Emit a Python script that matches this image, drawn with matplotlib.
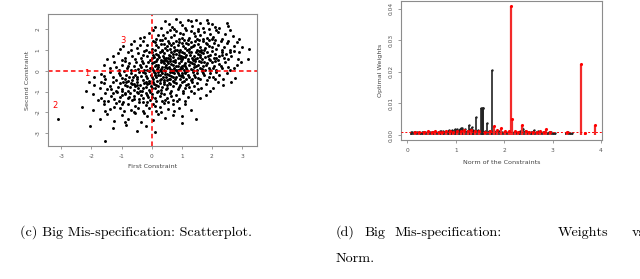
import matplotlib
matplotlib.use("Agg")
import matplotlib.pyplot as plt

# ---- panel (c): scatter of the two constraints
scatter_pts = [
    # y 2.0 .. 2.5
    (0.56, 2.27), (0.67, 2.12), (0.81, 2.49), (1.0, 2.2), (1.21, 2.43), (1.48, 2.43), (1.85, 2.43),
    (1.88, 2.28), (1.99, 2.24), (2.49, 2.28), (2.55, 2.17), (0.3, 2.05), (0.95, 2.33), (1.1, 2.05),
    (1.35, 2.15), (1.6, 2.3), (1.7, 2.08), (2.1, 2.12), (0.45, 2.4), (1.3, 2.38), (0.75, 2.02),
    (1.55, 2.02), (2.25, 2.05), (0.1, 2.1), (1.9, 2.0),
    # y 1.5 .. 2.0
    (0.22, 1.72), (0.37, 1.73), (2.2, 1.87), (-0.39, 1.59), (0.05, 1.95), (0.5, 1.85), (0.65, 1.62),
    (0.8, 1.9), (0.9, 1.55), (1.05, 1.75), (1.15, 1.95), (1.25, 1.6), (1.4, 1.82), (1.5, 1.52),
    (1.62, 1.7), (1.75, 1.88), (1.85, 1.58), (1.95, 1.76), (2.05, 1.62), (2.35, 1.55), (2.45, 1.78),
    (2.7, 1.65), (2.9, 1.52), (0.15, 1.55), (-0.1, 1.8), (0.6, 1.98), (1.0, 1.6), (1.3, 1.92),
    (1.7, 1.55), (2.15, 1.98), (0.35, 1.5), (0.75, 1.7), (1.2, 1.5), (1.55, 1.9), (2.6, 1.95),
    (0.95, 1.82), (-0.25, 1.62), (1.45, 1.68), (0.45, 1.6), (2.0, 1.52),
    # y 1.0 .. 1.5
    (-1.06, 1.04), (-0.95, 1.2), (-0.7, 1.3), (-0.5, 1.1), (-0.3, 1.42), (-0.15, 1.25), (0.0, 1.05),
    (0.1, 1.38), (0.2, 1.15), (0.28, 1.48), (0.35, 1.02), (0.42, 1.3), (0.5, 1.18), (0.55, 1.45),
    (0.62, 1.05), (0.7, 1.35), (0.75, 1.12), (0.82, 1.42), (0.88, 1.22), (0.95, 1.02), (1.0, 1.32),
    (1.08, 1.48), (1.12, 1.1), (1.2, 1.28), (1.25, 1.05), (1.3, 1.4), (1.38, 1.18), (1.45, 1.45),
    (1.5, 1.02), (1.55, 1.3), (1.62, 1.15), (1.7, 1.42), (1.78, 1.08), (1.85, 1.28), (1.92, 1.48),
    (2.0, 1.15), (2.08, 1.35), (2.15, 1.05), (2.22, 1.25), (2.3, 1.45), (2.4, 1.12), (2.5, 1.32),
    (2.6, 1.02), (2.72, 1.2), (2.85, 1.38), (3.24, 1.07), (3.0, 1.15), (-0.6, 1.45), (-0.2, 1.0),
    (0.15, 1.22), (0.65, 1.25), (0.9, 1.4), (1.15, 1.35), (1.4, 1.25), (1.65, 1.02), (1.9, 1.2),
    (2.35, 1.02), (0.45, 1.08), (0.3, 1.28), (1.05, 1.18), (0.78, 1.02), (1.58, 1.48), (2.1, 1.46),
    (-0.4, 1.22), (0.05, 1.45), (1.3, 1.15), (0.58, 1.35), (2.55, 1.45), (1.8, 1.35),
    # y 0.5 .. 1.0
    (-1.47, 0.55), (-1.11, 0.84), (-1.3, 0.7), (-0.9, 0.6), (-0.8, 0.92), (-0.65, 0.72), (-0.55, 0.55),
    (-0.45, 0.85), (-0.35, 0.62), (-0.25, 0.95), (-0.15, 0.7), (-0.05, 0.52), (0.02, 0.88), (0.08, 0.65),
    (0.12, 0.98), (0.18, 0.58), (0.22, 0.78), (0.28, 0.92), (0.32, 0.52), (0.38, 0.7), (0.42, 0.85),
    (0.48, 0.6), (0.52, 0.98), (0.56, 0.75), (0.6, 0.55), (0.65, 0.88), (0.7, 0.68), (0.74, 0.95),
    (0.78, 0.52), (0.82, 0.8), (0.88, 0.62), (0.92, 0.9), (0.98, 0.72), (1.02, 0.55), (1.08, 0.85),
    (1.12, 0.65), (1.18, 0.98), (1.22, 0.58), (1.28, 0.78), (1.32, 0.92), (1.38, 0.52), (1.42, 0.7),
    (1.48, 0.88), (1.52, 0.62), (1.58, 0.95), (1.62, 0.75), (1.68, 0.55), (1.72, 0.85), (1.78, 0.68),
    (1.85, 0.92), (1.9, 0.58), (1.95, 0.78), (2.02, 0.95), (2.08, 0.62), (2.12, 0.82), (2.2, 0.52),
    (2.25, 0.72), (2.32, 0.9), (2.4, 0.6), (2.48, 0.8), (2.55, 0.55), (2.65, 0.72), (2.86, 0.59),
    (2.9, 0.9), (2.96, 0.42), (3.21, 0.55), (2.75, 0.95), (-1.0, 0.52), (-0.7, 0.98), (0.0, 0.6),
    (0.25, 0.68), (0.45, 0.52), (0.62, 0.72), (0.85, 0.98), (1.05, 0.68), (1.25, 0.88), (1.45, 0.58),
    (1.65, 0.9), (1.88, 0.7), (2.15, 0.6), (0.15, 0.8), (0.35, 0.95), (0.55, 0.62), (0.95, 0.6),
    (1.35, 0.62), (1.75, 0.98), (-0.3, 0.78), (0.72, 0.82), (1.15, 0.78), (1.55, 0.8), (2.35, 0.75),
    (0.05, 0.75), (0.9, 0.78), (1.95, 0.52), (-0.1, 0.9), (0.4, 0.6), (1.0, 0.92), (1.6, 0.65),
    (2.6, 0.88),
    # y 0.0 .. 0.5
    (-1.6, 0.3), (-1.4, 0.15), (-1.25, 0.42), (-1.1, 0.05), (-1.0, 0.28), (-0.9, 0.45), (-0.82, 0.12),
    (-0.75, 0.35), (-0.68, 0.02), (-0.6, 0.22), (-0.52, 0.4), (-0.45, 0.1), (-0.4, 0.3), (-0.32, 0.48),
    (-0.25, 0.05), (-0.2, 0.25), (-0.12, 0.42), (-0.05, 0.15), (0.02, 0.35), (0.05, 0.02), (0.1, 0.22),
    (0.14, 0.45), (0.18, 0.1), (0.22, 0.3), (0.26, 0.05), (0.3, 0.4), (0.34, 0.18), (0.38, 0.48),
    (0.42, 0.02), (0.46, 0.28), (0.5, 0.12), (0.54, 0.38), (0.58, 0.2), (0.62, 0.45), (0.66, 0.05),
    (0.7, 0.3), (0.74, 0.15), (0.78, 0.42), (0.82, 0.22), (0.86, 0.02), (0.9, 0.35), (0.94, 0.1),
    (0.98, 0.48), (1.02, 0.25), (1.06, 0.05), (1.1, 0.38), (1.15, 0.15), (1.2, 0.45), (1.25, 0.28),
    (1.3, 0.08), (1.35, 0.35), (1.4, 0.18), (1.45, 0.48), (1.5, 0.02), (1.55, 0.3), (1.6, 0.12),
    (1.65, 0.4), (1.7, 0.22), (1.78, 0.05), (1.85, 0.35), (1.92, 0.15), (2.0, 0.42), (2.08, 0.25),
    (2.15, 0.05), (2.25, 0.32), (2.35, 0.12), (2.45, 0.4), (2.55, 0.2), (2.74, 0.12), (2.6, 0.02),
    (2.85, 0.3), (-0.15, 0.02), (0.0, 0.12), (0.08, 0.4), (0.2, 0.2), (0.32, 0.08), (0.4, 0.35),
    (0.52, 0.48), (0.6, 0.1), (0.72, 0.48), (0.8, 0.05), (0.88, 0.25), (0.96, 0.18), (1.08, 0.28),
    (1.18, 0.02), (1.28, 0.42), (1.38, 0.05), (1.48, 0.22), (1.58, 0.45), (1.68, 0.08), (1.8, 0.28),
    (1.95, 0.02), (2.1, 0.45), (2.3, 0.22), (-0.35, 0.18), (-0.55, 0.05), (-0.8, 0.25), (-1.2, 0.2),
    (-0.3, 0.35), (0.15, 0.3), (0.45, 0.18), (0.65, 0.32), (0.75, 0.02), (1.0, 0.12), (1.12, 0.25),
    (1.42, 0.32), (1.75, 0.4), (2.05, 0.12),
    # y -0.5 .. 0.0
    (-2.09, -0.53), (-1.9, -0.3), (-1.7, -0.15), (-1.55, -0.42), (-1.4, -0.05), (-1.3, -0.28),
    (-1.2, -0.45), (-1.1, -0.12), (-1.0, -0.35), (-0.92, -0.02), (-0.85, -0.22), (-0.78, -0.48),
    (-0.7, -0.1), (-0.62, -0.3), (-0.55, -0.18), (-0.48, -0.42), (-0.42, -0.05), (-0.35, -0.25),
    (-0.28, -0.45), (-0.22, -0.12), (-0.15, -0.35), (-0.08, -0.02), (-0.02, -0.2), (0.04, -0.42),
    (0.1, -0.1), (0.14, -0.3), (0.18, -0.48), (0.22, -0.05), (0.26, -0.22), (0.3, -0.38), (0.35, -0.12),
    (0.4, -0.45), (0.44, -0.02), (0.48, -0.28), (0.52, -0.15), (0.56, -0.4), (0.6, -0.08), (0.65, -0.25),
    (0.7, -0.48), (0.75, -0.12), (0.8, -0.32), (0.85, -0.02), (0.9, -0.2), (0.95, -0.42), (1.0, -0.1),
    (1.05, -0.3), (1.1, -0.05), (1.15, -0.38), (1.22, -0.18), (1.3, -0.45), (1.38, -0.08), (1.45, -0.28),
    (1.52, -0.12), (1.6, -0.4), (1.68, -0.02), (1.75, -0.22), (1.85, -0.45), (1.95, -0.1), (2.05, -0.3),
    (2.15, -0.05), (2.25, -0.2), (2.38, -0.4), (2.5, -0.1), (2.78, -0.37), (2.63, -0.53), (-0.3, -0.08),
    (-0.5, -0.32), (-0.65, -0.45), (-0.9, -0.4), (-0.1, -0.48), (0.0, -0.3), (0.08, -0.05), (0.2, -0.18),
    (0.32, -0.02), (0.38, -0.3), (0.5, -0.45), (0.58, -0.22), (0.68, -0.05), (0.78, -0.42), (0.88, -0.12),
    (0.98, -0.25), (1.08, -0.48), (1.18, -0.02), (1.25, -0.32), (1.4, -0.2), (1.55, -0.35), (1.72, -0.1),
    (1.9, -0.28), (2.1, -0.42), (-1.6, -0.25), (-1.05, -0.2), (-0.2, -0.25), (0.12, -0.22), (0.45, -0.15),
    (0.72, -0.3), (1.02, -0.18), (1.35, -0.4), (-0.75, -0.3), (0.28, -0.45), (0.62, -0.38), (1.12, -0.12),
    # y -1.0 .. -0.5
    (-2.17, -0.98), (-1.72, -0.85), (-1.9, -0.7), (-1.6, -0.6), (-1.5, -0.9), (-1.38, -0.72),
    (-1.28, -0.55), (-1.2, -0.95), (-1.12, -0.78), (-1.05, -0.6), (-0.98, -0.88), (-0.9, -0.7),
    (-0.85, -0.52), (-0.78, -0.98), (-0.72, -0.8), (-0.66, -0.62), (-0.6, -0.92), (-0.55, -0.75),
    (-0.5, -0.55), (-0.44, -0.85), (-0.38, -0.68), (-0.32, -0.98), (-0.26, -0.58), (-0.2, -0.8),
    (-0.14, -0.65), (-0.08, -0.92), (-0.02, -0.72), (0.04, -0.55), (0.1, -0.85), (0.16, -0.68),
    (0.22, -0.98), (0.28, -0.6), (0.34, -0.8), (0.4, -0.52), (0.46, -0.9), (0.52, -0.7), (0.58, -0.58),
    (0.65, -0.95), (0.72, -0.75), (0.8, -0.6), (0.88, -0.88), (0.95, -0.68), (1.02, -0.55), (1.1, -0.82),
    (1.2, -0.62), (1.3, -0.95), (1.4, -0.72), (1.52, -0.58), (1.65, -0.85), (1.8, -0.65), (2.05, -0.85),
    (2.38, -0.67), (1.95, -0.95), (-1.0, -0.95), (-0.7, -0.58), (-0.4, -0.95), (-0.1, -0.6), (0.2, -0.75),
    (0.5, -0.85), (0.75, -0.52), (1.05, -0.95), (1.35, -0.55), (-1.35, -0.88), (-0.95, -0.52),
    (-0.48, -0.7), (-0.28, -0.82), (0.0, -0.85), (0.3, -0.92), (0.62, -0.65), (0.9, -0.78), (1.15, -0.7),
    (1.55, -0.9), (-1.7, -0.55), (-0.6, -0.65), (0.08, -0.65), (0.42, -0.62), (-0.82, -0.75),
    (-0.18, -0.52), (1.25, -0.8), (2.2, -0.55),
    # y -1.5 .. -1.0
    (-1.95, -1.1), (-1.7, -1.3), (-1.55, -1.05), (-1.45, -1.45), (-1.35, -1.2), (-1.25, -1.38),
    (-1.15, -1.02), (-1.05, -1.25), (-0.95, -1.48), (-0.88, -1.12), (-0.8, -1.32), (-0.72, -1.05),
    (-0.65, -1.42), (-0.58, -1.2), (-0.5, -1.02), (-0.42, -1.35), (-0.35, -1.15), (-0.28, -1.48),
    (-0.2, -1.05), (-0.12, -1.28), (-0.05, -1.42), (0.02, -1.1), (0.1, -1.32), (0.18, -1.02),
    (0.26, -1.22), (0.34, -1.45), (0.42, -1.12), (0.5, -1.3), (0.6, -1.05), (0.7, -1.4), (0.8, -1.18),
    (0.92, -1.35), (1.05, -1.08), (1.2, -1.25), (1.4, -1.05), (1.6, -1.3), (1.8, -1.15), (-1.6, -1.45),
    (-1.1, -1.45), (-0.75, -1.25), (-0.45, -1.05), (-0.15, -1.15), (0.15, -1.45), (0.45, -1.4),
    (0.85, -1.45), (-0.9, -1.05), (-0.3, -1.3), (0.0, -1.25), (0.3, -1.08), (-1.3, -1.05), (-0.6, -1.35),
    (0.65, -1.22), (1.1, -1.45), (-1.8, -1.4), (-1.0, -1.15), (-0.05, -1.02), (0.55, -1.48),
    # y -2.0 .. -1.5
    (-2.33, -1.75), (-1.95, -1.9), (-1.6, -1.6), (-1.4, -1.85), (-1.2, -1.55), (-1.05, -1.78),
    (-0.92, -1.95), (-0.8, -1.62), (-0.68, -1.88), (-0.55, -1.7), (-0.42, -1.52), (-0.3, -1.92),
    (-0.2, -1.65), (-0.08, -1.8), (0.05, -1.58), (0.15, -1.95), (0.28, -1.72), (0.4, -1.55), (0.55, -1.85),
    (0.7, -1.62), (0.9, -1.78), (1.1, -1.6), (1.3, -1.9), (-1.55, -1.95), (-0.98, -1.58), (-0.6, -1.98),
    (-0.15, -1.52), (0.3, -1.98), (-1.25, -1.75), (-0.45, -1.8), (0.1, -1.7), (0.75, -1.95),
    # y below -2.0
    (-3.11, -2.32), (-1.72, -2.34), (-1.5, -2.1), (-1.25, -2.4), (-1.0, -2.15), (-0.78, -2.3),
    (-0.55, -2.05), (-0.35, -2.45), (-0.15, -2.2), (0.05, -2.35), (0.2, -2.08), (0.45, -2.25),
    (0.7, -2.12), (1.47, -2.32), (-0.9, -2.45), (-0.25, -2.02), (1.0, -2.2),
    (-1.55, -3.38), (-2.05, -2.64), (-0.5, -2.9), (0.11, -2.93), (1.0, -2.53), (-0.85, -2.6),
    (-1.3, -2.75), (-0.2, -2.65),
]
scatter_x = [p[0] for p in scatter_pts]
scatter_y = [p[1] for p in scatter_pts]

region_labels = ["1", "2", "3"]
region_pos = [(-2.15, -0.12), (-3.2, -1.65), (-0.95, 1.47)]

# ---- panel (d): optimal weights against the norm of the constraints
black_x = [0.07, 0.1, 0.13, 0.16, 0.2, 0.24, 0.27, 0.3, 0.33, 0.37, 0.4, 0.43, 0.47, 0.5, 0.53,
           0.56, 0.6, 0.63, 0.66, 0.68, 0.7, 0.73, 0.76, 0.8, 0.83, 0.86, 0.9, 0.92, 0.95, 0.98,
           1.0, 1.03, 1.06, 1.08, 1.1, 1.12, 1.15, 1.18, 1.2, 1.23, 1.27, 1.3, 1.33, 1.36, 1.38,
           1.42, 1.45, 1.48, 1.52, 1.54, 1.56, 1.57, 1.6, 1.64, 1.68, 1.72, 1.75, 1.78, 1.82, 1.86,
           1.9, 1.95, 2.0, 2.04, 2.08, 2.12, 2.2, 2.25, 2.3, 2.33, 2.36, 2.38, 2.42, 2.45, 2.5,
           2.55, 2.58, 2.62, 2.66, 2.7, 2.73, 2.76, 2.8, 2.84, 2.88, 2.92, 2.96, 3.0, 3.04,
           3.27, 3.32, 3.36, 3.4]
black_w = [0.0008, 0.0009, 0.0008, 0.0009, 0.0008, 0.0009, 0.0007, 0.0009, 0.0008, 0.0010,
           0.0009, 0.0008, 0.0010, 0.0009, 0.0011, 0.0009, 0.0010, 0.0011, 0.0009, 0.0014,
           0.0012, 0.0014, 0.0010, 0.0012, 0.0011, 0.0015, 0.0013, 0.0017, 0.0014, 0.0018,
           0.0013, 0.0019, 0.0015, 0.0020, 0.0022, 0.0021, 0.0016, 0.0014, 0.0019, 0.0013,
           0.0033, 0.0018, 0.0024, 0.0015, 0.0012, 0.0058, 0.0016, 0.0011, 0.0086, 0.0086,
           0.0086, 0.0086, 0.0013, 0.0037, 0.0012, 0.0010, 0.0207, 0.0013, 0.0011, 0.0009,
           0.0012, 0.0010, 0.0008, 0.0011, 0.0009, 0.0010, 0.0008, 0.0011, 0.0009, 0.0014,
           0.0021, 0.0018, 0.0012, 0.0009, 0.0011, 0.0008, 0.0010, 0.0017, 0.0009, 0.0012,
           0.0008, 0.0011, 0.0009, 0.0010, 0.0007, 0.0009, 0.0008, 0.0007, 0.0006,
           0.0006, 0.0008, 0.0006, 0.0005]
red_x = [0.15, 0.25, 0.35, 0.42, 0.5, 0.58, 0.65, 0.72, 0.8, 0.88, 0.95, 1.02, 1.1, 1.18, 1.25,
         1.32, 1.4, 1.47, 1.6, 1.7, 1.79, 1.85, 1.93, 2.02, 2.1, 2.14, 2.16, 2.22, 2.28, 2.37,
         2.45, 2.52, 2.6, 2.68, 2.75, 2.82, 2.87, 2.95, 3.29, 3.58, 3.67, 3.87]
red_w = [0.0009, 0.0010, 0.0011, 0.0012, 0.0011, 0.0012, 0.0010, 0.0011, 0.0013, 0.0012, 0.0011,
         0.0014, 0.0012, 0.0015, 0.0013, 0.0016, 0.0014, 0.0012, 0.0011, 0.0013, 0.0028, 0.0015,
         0.0022, 0.0012, 0.0014, 0.0408, 0.0052, 0.0013, 0.0010, 0.0031, 0.0012, 0.0009, 0.0011,
         0.0010, 0.0013, 0.0009, 0.0020, 0.0010, 0.0009, 0.0226, 0.0006, 0.0031]
uniform_weight = 0.001

caption_c = "(c) Big Mis-specification: Scatterplot."
caption_d_words = ["(d)", "Big", "Mis-specification:", "Weights", "vs"]
caption_d_word_x = [336, 364, 394, 558, 632]
caption_d_line2 = "Norm."

frame = "#8c8c8c"
tick_font = 4.2
lab_font = 4.6
cap_font = 10.2


def r_style(ax):
    for s in ax.spines.values():
        s.set_color(frame)
        s.set_linewidth(0.8)
    ax.tick_params(colors=frame, labelcolor="#555555", labelsize=tick_font,
                   length=2.5, width=0.6, pad=3)
    for lab in ax.get_yticklabels():
        lab.set_rotation(90)
        lab.set_va("center")


fig = plt.figure(figsize=(6.4, 2.79), dpi=100)

# left panel
ax1 = fig.add_axes([0.075, 0.4767, 0.3266, 0.473])
ax1.scatter(scatter_x, scatter_y, s=4.5, c="black", linewidths=0)
ax1.axvline(0, color="red", ls=(0, (3, 2)), lw=1.1)
ax1.axhline(0, color="red", ls=(0, (3, 2)), lw=1.1)
for lab, (px, py) in zip(region_labels, region_pos):
    ax1.text(px, py, lab, color="red", fontsize=6, ha="center", va="center")
ax1.set_xlim(-3.445, 3.5)
ax1.set_ylim(-3.62, 2.73)
xt = [-3, -2, -1, 0, 1, 2, 3]
yt = [-3, -2, -1, 0, 1, 2]
ax1.set_xticks(xt, [str(v) for v in xt])
ax1.set_yticks(yt, [str(v) for v in yt])
ax1.set_xlabel("First Constraint", fontsize=lab_font, color="#444444", labelpad=4)
ax1.set_ylabel("Second Constraint", fontsize=lab_font, color="#444444", labelpad=4)
r_style(ax1)

# right panel
ax2 = fig.add_axes([0.6266, 0.498, 0.314, 0.498])
ax2.vlines(black_x, 0, black_w, color="#222222", lw=1.2)
ax2.scatter(black_x, black_w, s=3, c="#222222", linewidths=0, zorder=3)
ax2.vlines(red_x, 0, red_w, color="#f22a2a", lw=1.6, zorder=4)
ax2.scatter(red_x, red_w, s=5, c="#ff0000", linewidths=0, zorder=5)
ax2.axhline(uniform_weight, color="red", ls=(0, (2, 2)), lw=0.7, zorder=6)
ax2.set_xlim(-0.13, 4.02)
ax2.set_ylim(-0.0016, 0.0424)
ax2.set_xticks([0, 1, 2, 3, 4], ["0", "1", "2", "3", "4"])
ax2.set_yticks([0, 0.01, 0.02, 0.03, 0.04], ["0.00", "0.01", "0.02", "0.03", "0.04"])
ax2.set_xlabel("Norm of the Constraints", fontsize=lab_font, color="#444444", labelpad=5)
ax2.set_ylabel("Optimal Weights", fontsize=lab_font, color="#444444", labelpad=4)
r_style(ax2)

# captions (positions in pixels of the 640x279 canvas)
base1 = 1 - 236 / 279
base2 = 1 - 262 / 279
fig.text(20 / 640, base1, caption_c, fontsize=cap_font, family="cmr10", va="baseline")
for word, px in zip(caption_d_words, caption_d_word_x):
    fig.text(px / 640, base1, word, fontsize=cap_font, family="cmr10", va="baseline")
fig.text(336 / 640, base2, caption_d_line2, fontsize=cap_font, family="cmr10", va="baseline")

fig.savefig("out.png", dpi=100)
